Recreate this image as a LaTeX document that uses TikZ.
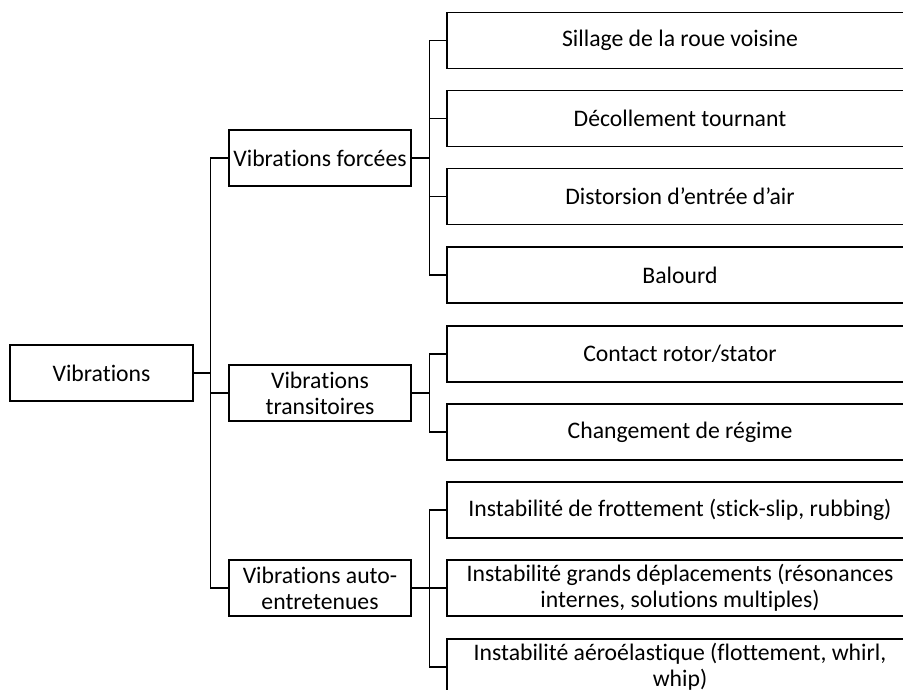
\documentclass[tikz,border=0pt]{standalone}
\usepackage{fontspec}
\setmainfont{Carlito}[Ligatures=NoCommon]

\begin{document}
\begin{tikzpicture}[x=1pt,y=-1pt,line width=1.4pt]
        %
        % `box' is used by every rectangle of the tree.
        % `root', `family' and `cause' only set the widths of the three columns.
        \tikzstyle{box} = [draw,rectangle,inner sep=0pt,minimum height=56pt,align=center,font=\fontsize{23.7}{26}\selectfont]
        \tikzstyle{root} = [box,minimum width=183pt]
        \tikzstyle{family} = [box,minimum width=182pt]
        \tikzstyle{cause} = [box,minimum width=466pt]
        %
        % Page
        \useasboundingbox (0,0) rectangle (903,689);
        \clip (0,0) rectangle (903,689);
        %
        % Column 1
        \node[root] (vib) at (101.5,373) {Vibrations};
        %
        % Column 2
        \node[family] (forc) at (320,158) {Vibrations forcées};
        \node[family] (trans) at (320,393) {Vibrations\\transitoires};
        \node[family] (auto) at (320,588) {Vibrations auto-\\entretenues};
        \draw (forc.west) -- ++(-18,0) |- (vib.east);
        \draw (trans.west) -- ++(-18,0) |- (vib.east);
        \draw (auto.west) -- ++(-18,0) |- (vib.east);
        %
        % Column 3, forced
        \node[cause] (sill) at (680,40.5) {Sillage de la roue voisine};
        \node[cause] (decol) at (680,118.5) {Décollement tournant};
        \node[cause] (dist) at (680,196.5) {Distorsion d’entrée d’air};
        \node[cause] (bal) at (680,275) {Balourd};
        \draw (forc.east) -- ++(18,0) |- (sill.west);
        \draw (forc.east) -- ++(18,0) |- (decol.west);
        \draw (forc.east) -- ++(18,0) |- (dist.west);
        \draw (forc.east) -- ++(18,0) |- (bal.west);
        %
        % Column 3, transient
        \node[cause] (cont) at (680,354) {Contact rotor/stator};
        \node[cause] (chg) at (680,432) {Changement de régime};
        \draw (trans.east) -- ++(18,0) |- (cont.west);
        \draw (trans.east) -- ++(18,0) |- (chg.west);
        %
        % Column 3, self-excited
        \node[cause] (frot) at (680,510) {Instabilité de frottement (stick-slip, rubbing)};
        \node[cause] (depl) at (680,588) {Instabilité grands déplacements (résonances\\internes, solutions multiples)};
        \node[cause] (aero) at (680,667) {Instabilité aéroélastique (flottement, whirl,\\whip)};
        \draw (auto.east) -- ++(18,0) |- (frot.west);
        \draw (auto.east) -- ++(18,0) |- (depl.west);
        \draw (auto.east) -- ++(18,0) |- (aero.west);
        %
\end{tikzpicture}
\end{document}
